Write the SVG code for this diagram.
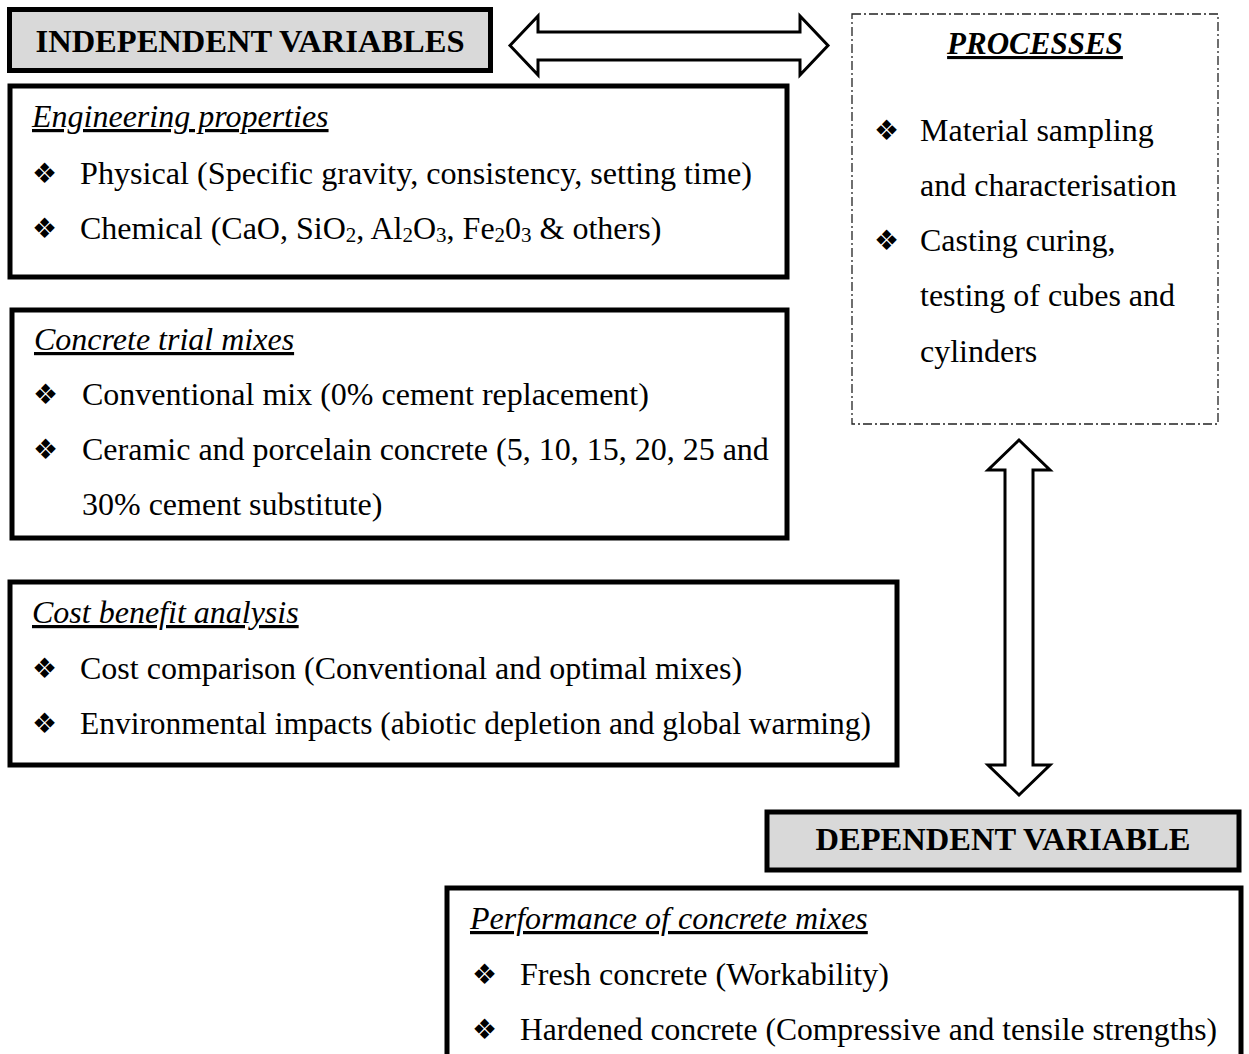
<svg xmlns="http://www.w3.org/2000/svg" width="1249" height="1054" viewBox="0 0 1249 1054">
<style>
text{font-family:"Liberation Serif","Times New Roman",serif;fill:#000;font-size:32px}
.hdr{font-weight:bold;font-size:32.5px}
.ttl{font-style:italic;text-decoration:underline}
.ptl{font-weight:bold;font-style:italic;text-decoration:underline;font-size:31px}
.bul{font-family:"DejaVu Sans",sans-serif;font-size:28px}
.sub{font-size:21px}
.box{fill:#fff;stroke:#000;stroke-width:5}
.hbox{fill:#d9d9d9;stroke:#000;stroke-width:5}
.pbox{fill:#fff;stroke:#222;stroke-width:1.3;stroke-dasharray:9 3 2 3}
.arr{fill:#fff;stroke:#000;stroke-width:3;stroke-linejoin:miter}
</style>
<rect width="1249" height="1054" fill="#fff"/>
<g id="connectors">
<path class="arr" d="M510,45.5 L538,16 L538,32 L800,32 L800,16 L828,45.5 L800,75 L800,60 L538,60 L538,75 Z"/>
<path class="arr" d="M1019,440 L1050,470 L1033,470 L1033,765 L1050,765 L1019,795 L988,765 L1005,765 L1005,470 L988,470 Z"/>
</g>
<g id="independent-variables">
<rect class="hbox" x="9.5" y="9.5" width="481" height="61"/>
<text class="hdr" x="250" y="52" text-anchor="middle">INDEPENDENT VARIABLES</text>
</g>
<g id="engineering-properties">
<rect class="box" x="10" y="86" width="777" height="191"/>
<text class="ttl" x="32" y="127">Engineering properties</text>
<text class="bul" x="32" y="183">❖</text>
<text x="80" y="184" textLength="672" lengthAdjust="spacingAndGlyphs">Physical (Specific gravity, consistency, setting time)</text>
<text class="bul" x="32" y="238">❖</text>
<text x="80" y="239">Chemical (CaO, SiO<tspan class="sub" dy="3">2</tspan><tspan dy="-3">, Al</tspan><tspan class="sub" dy="3">2</tspan><tspan dy="-3">O</tspan><tspan class="sub" dy="3">3</tspan><tspan dy="-3">, Fe</tspan><tspan class="sub" dy="3">2</tspan><tspan dy="-3">0</tspan><tspan class="sub" dy="3">3</tspan><tspan dy="-3"> &amp; others)</tspan></text>
</g>
<g id="concrete-trial-mixes">
<rect class="box" x="12" y="310" width="775" height="228"/>
<text class="ttl" x="34" y="350">Concrete trial mixes</text>
<text class="bul" x="33" y="404">❖</text>
<text x="82" y="405">Conventional mix (0% cement replacement)</text>
<text class="bul" x="33" y="459">❖</text>
<text x="82" y="460">Ceramic and porcelain concrete (5, 10, 15, 20, 25 and</text>
<text x="82" y="515">30% cement substitute)</text>
</g>
<g id="cost-benefit-analysis">
<rect class="box" x="10" y="582" width="887" height="183"/>
<text class="ttl" x="32" y="623">Cost benefit analysis</text>
<text class="bul" x="32" y="678">❖</text>
<text x="80" y="679">Cost comparison (Conventional and optimal mixes)</text>
<text class="bul" x="32" y="733">❖</text>
<text x="80" y="734" textLength="791" lengthAdjust="spacingAndGlyphs">Environmental impacts (abiotic depletion and global warming)</text>
</g>
<g id="processes">
<rect class="pbox" x="852" y="14" width="366" height="410"/>
<text class="ptl" x="1035" y="54" text-anchor="middle">PROCESSES</text>
<text class="bul" x="874" y="140">❖</text>
<text x="920" y="141">Material sampling</text>
<text x="920" y="196">and characterisation</text>
<text class="bul" x="874" y="250">❖</text>
<text x="920" y="251">Casting curing,</text>
<text x="920" y="306">testing of cubes and</text>
<text x="920" y="362">cylinders</text>
</g>
<g id="dependent-variable">
<rect class="hbox" x="767" y="812" width="472" height="58"/>
<text class="hdr" x="1003" y="850" text-anchor="middle">DEPENDENT VARIABLE</text>
</g>
<g id="performance">
<rect class="box" x="447" y="888" width="794" height="200"/>
<text class="ttl" x="470" y="929">Performance of concrete mixes</text>
<text class="bul" x="472" y="984">❖</text>
<text x="520" y="985">Fresh concrete (Workability)</text>
<text class="bul" x="472" y="1039">❖</text>
<text x="520" y="1040" textLength="697" lengthAdjust="spacingAndGlyphs">Hardened concrete (Compressive and tensile strengths)</text>
</g>
</svg>
